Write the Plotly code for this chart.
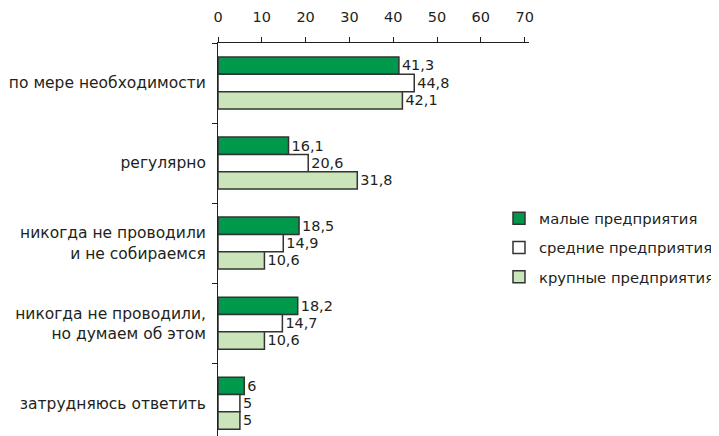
import plotly.graph_objects as go

categories = ["по мере необходимости", "регулярно",
              "никогда не проводили<br>и не собираемся",
              "никогда не проводили,<br>но думаем об этом",
              "затрудняюсь ответить"]
small = [41.3, 16.1, 18.5, 18.2, 6]
medium = [44.8, 20.6, 14.9, 14.7, 5]
large = [42.1, 31.8, 10.6, 10.6, 5]
series_names = ["малые предприятия", "средние предприятия", "крупные предприятия"]
colors = ["#00994C", "#FFFFFF", "#C9E5B9"]

FONT = "DejaVu Sans, Liberation Sans, Arial, sans-serif"

def fmt(v):
    return (f"{v:g}").replace(".", ",")

fig = go.Figure()
for i, (name, vals) in enumerate(zip(series_names, [small, medium, large])):
    fig.add_trace(go.Bar(
        y=categories, x=vals, orientation="h", name=name,
        marker=dict(color=colors[i], line=dict(color="#333333", width=1.5)),
        text=[fmt(v) for v in vals], textposition="outside",
        textfont=dict(size=15, color="#231F20"), cliponaxis=False,
        legendgroup=str(i),
    ))

# page body has an 8px default margin: compensate
fig.update_layout(
    width=711, height=428,
    margin=dict(l=210, r=190, t=35, b=0, autoexpand=False),
    barmode="group", bargap=0.35, bargroupgap=0,
    plot_bgcolor="white", paper_bgcolor="white",
    font=dict(family=FONT, size=15, color="#231F20"),
    legend=dict(x=0.9035, y=0.595, xanchor="left", yanchor="top",
                traceorder="grouped", tracegroupgap=7,
                font=dict(size=14.8), itemwidth=30, bgcolor="rgba(0,0,0,0)"),
    xaxis=dict(side="top", range=[0, 71], dtick=10, showgrid=False,
               showline=True, linecolor="#231F20", linewidth=1,
               ticks="outside", ticklen=5, tickcolor="#231F20",
               tickfont=dict(size=14.5), zeroline=False, automargin=False,
               ticklabelstandoff=9),
    yaxis=dict(type="category", range=[4.41, -0.5], showgrid=False,
               showline=True, linecolor="#231F20", linewidth=1,
               ticks="outside", ticklen=5, tickcolor="#231F20",
               tickson="boundaries", tickfont=dict(size=15.5),
               ticklabelstandoff=8, automargin=False),
)
fig.write_html("out.html")
